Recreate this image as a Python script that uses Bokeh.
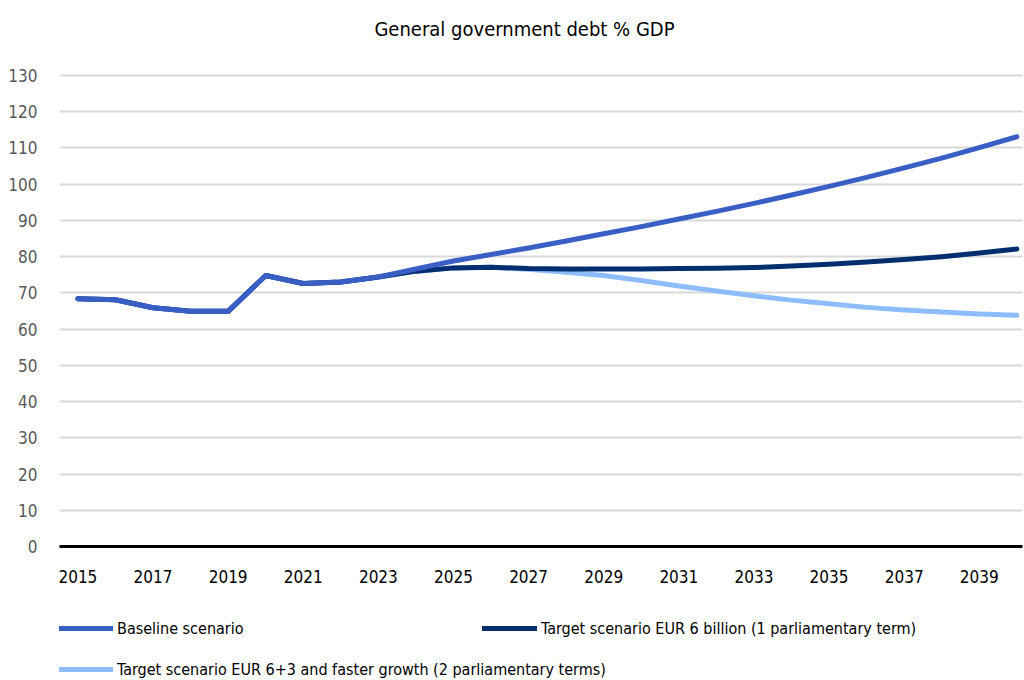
from bokeh.plotting import figure
from bokeh.models import Range1d, Legend, LegendItem, FixedTicker, Label
from bokeh.layouts import column
from bokeh.embed import file_html
from bokeh.resources import INLINE

years = list(range(2015, 2041))
baseline = [68.4, 68.1, 65.9, 64.9, 64.9, 74.8, 72.6, 73.0, 74.4, 76.6, 78.8, 80.6, 82.4,
            84.3, 86.3, 88.3, 90.4, 92.5, 94.7, 97.0, 99.4, 101.9, 104.5, 107.2, 110.1, 113.1]
target_6 = [68.4, 68.1, 65.9, 64.9, 64.9, 74.8, 72.6, 73.0, 74.4, 76.0, 76.9, 77.1, 76.7,
            76.6, 76.6, 76.6, 76.7, 76.8, 77.0, 77.4, 77.9, 78.5, 79.2, 80.0, 81.0, 82.1]
target_63 = [68.4, 68.1, 65.9, 64.9, 64.9, 74.8, 72.6, 73.0, 74.4, 76.0, 76.9, 77.1, 76.5,
             75.7, 74.8, 73.4, 71.9, 70.5, 69.2, 68.0, 67.0, 66.0, 65.3, 64.7, 64.2, 63.8]
y_ticks = list(range(0, 131, 10))
x_ticks = list(range(2015, 2040, 2))
title_text = "General government debt % GDP"
names = ["Baseline scenario",
         "Target scenario EUR 6 billion (1 parliamentary term)",
         "Target scenario EUR 6+3 and faster growth (2 parliamentary terms)"]
colors = ["#3A5FC4", "#002E6E", "#8DBDFF"]

FONT = "'DejaVu Sans Condensed', 'DejaVu Sans', sans-serif"

# main chart: frame spans from canvas top to the zero line
p = figure(width=1024, height=600, output_backend="svg", toolbar_location=None,
           x_range=Range1d(2014.51, 2040.15), y_range=Range1d(0, 150.7),
           min_border_left=59, min_border_right=2, min_border_top=0, min_border_bottom=54)
p.outline_line_color = None
p.background_fill_color = "white"

r3 = p.line(years, target_63, line_color=colors[2], line_width=5, line_cap="round", line_join="round")
r2 = p.line(years, target_6, line_color=colors[1], line_width=5, line_cap="round", line_join="round")
r1 = p.line(years, baseline, line_color=colors[0], line_width=5, line_cap="round", line_join="round")

p.xgrid.visible = False
p.ygrid.ticker = FixedTicker(ticks=y_ticks)
p.ygrid.grid_line_color = "#D9D9D9"
p.ygrid.grid_line_width = 2

for ax in (p.xaxis, p.yaxis):
    ax.major_tick_out = 0
    ax.major_tick_in = 0
    ax.minor_tick_out = 0
    ax.minor_tick_in = 0
    ax.major_tick_line_color = None
    ax.minor_tick_line_color = None
    ax.major_label_text_font = FONT
    ax.major_label_text_font_size = "17px"

p.yaxis.ticker = FixedTicker(ticks=y_ticks)
p.yaxis.axis_line_color = None
p.yaxis.major_label_standoff = 22
p.yaxis.major_label_text_color = "#595959"

p.xaxis.ticker = FixedTicker(ticks=x_ticks)
p.xaxis.axis_line_color = "#000000"
p.xaxis.axis_line_width = 3
p.xaxis.major_label_standoff = 23
p.xaxis.major_label_text_color = "#000000"

title = Label(x=465, y=518, x_units="screen", y_units="screen", text=title_text,
              text_align="center", text_baseline="middle", text_font=FONT,
              text_font_size="20px", text_color="#000000")
p.add_layout(title)

# legend strip below the chart (series drawn out of view; only legend swatches show)
pl = figure(width=1024, height=80, output_backend="svg", toolbar_location=None,
            x_range=Range1d(2014.51, 2040.15), y_range=Range1d(0, 1),
            x_axis_type=None, y_axis_type=None,
            min_border_left=59, min_border_right=2, min_border_top=0, min_border_bottom=0)
pl.outline_line_color = None
pl.xgrid.visible = False
pl.ygrid.visible = False
l1 = pl.line(years, baseline, line_color=colors[0], line_width=5, line_cap="round")
l2 = pl.line(years, target_6, line_color=colors[1], line_width=5, line_cap="round")
l3 = pl.line(years, target_63, line_color=colors[2], line_width=5, line_cap="round")

def mk_legend(items, loc, spacing):
    return Legend(items=items, location=loc, orientation="vertical",
                  glyph_width=55, glyph_height=20, label_height=20,
                  label_standoff=4, spacing=spacing, padding=0, margin=0,
                  border_line_alpha=0, background_fill_alpha=0,
                  label_text_font=FONT, label_text_font_size="16px",
                  label_text_color="#000000")

legA = mk_legend([LegendItem(label=names[0], renderers=[l1]),
                  LegendItem(label=names[2], renderers=[l3])], (-1, 1), 21)
legB = mk_legend([LegendItem(label=names[1], renderers=[l2])], (423, 42), 21)
pl.add_layout(legA, "center")
pl.add_layout(legB, "center")

open("out.html", "w").write(file_html(column(p, pl, spacing=0), INLINE))
